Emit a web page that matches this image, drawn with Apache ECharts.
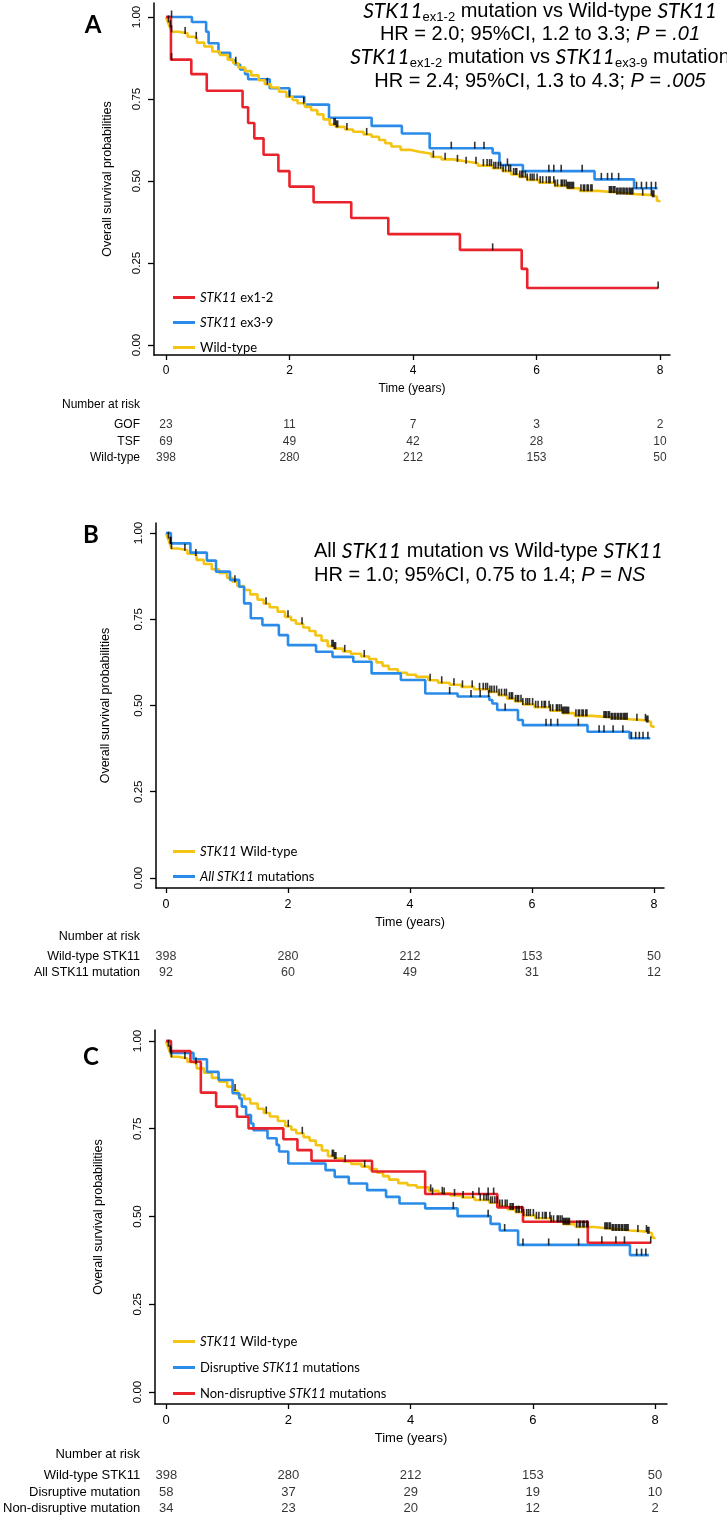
<!DOCTYPE html>
<html>
<head>
<meta charset="utf-8">
<script src="https://cdn.jsdelivr.net/npm/echarts@6/dist/echarts.min.js"></script>
<style>
  html, body { margin: 0; padding: 0; background: #fff; }
  #main { width: 727px; height: 1517px; }
</style>
</head>
<body>
<div id="main"></div>
<script>
// Kaplan-Meier steps: [time in years, survival after the drop]
const wildType = [[0,1],[0.03,0.985],[0.06,0.97],[0.09,0.955],[0.2,0.95],[0.35,0.94],[0.45,0.935],[0.5,0.922],
  [0.62,0.91],[0.75,0.895],[0.87,0.884],[1.0,0.87],[1.09,0.859],[1.17,0.846],[1.28,0.835],[1.38,0.822],[1.5,0.807],
  [1.6,0.795],[1.7,0.785],[1.83,0.772],[1.95,0.757],[2.05,0.747],[2.13,0.737],[2.25,0.726],[2.35,0.716],[2.45,0.703],
  [2.55,0.688],[2.65,0.672],[2.75,0.665],[2.9,0.657],[3.03,0.65],[3.2,0.642],[3.33,0.635],[3.45,0.625],[3.55,0.615],
  [3.65,0.605],[3.8,0.595],[3.95,0.589],[4.1,0.583],[4.3,0.573],[4.46,0.566],[4.65,0.56],[4.84,0.554],[5.05,0.547],
  [5.29,0.539],[5.45,0.53],[5.59,0.52],[5.72,0.512],[5.85,0.503],[6.04,0.495],[6.3,0.485],[6.5,0.478],[6.7,0.47],
  [7.0,0.465],[7.3,0.46],[7.6,0.457],[7.88,0.452],[7.95,0.44],[7.99,0.435]];
const wildTypeCensor = [0.04,0.07,0.09,0.31,0.49,1.13,1.64,2.0,2.23,2.72,2.74,2.76,2.78,2.93,3.25,4.33,4.52,4.72,
  4.86,5.02,5.14,5.2,5.24,5.27,5.31,5.34,5.38,5.42,5.46,5.5,5.55,5.58,5.63,5.66,5.68,5.73,5.76,5.78,5.82,5.85,5.9,
  5.93,5.96,6.01,6.06,6.1,6.16,6.2,6.22,6.28,6.3,6.34,6.4,6.42,6.45,6.48,6.5,6.52,6.54,6.56,6.58,6.6,6.72,6.76,6.78,
  6.82,6.84,6.88,6.9,7.18,7.2,7.22,7.25,7.27,7.3,7.32,7.35,7.37,7.4,7.42,7.45,7.47,7.5,7.52,7.54,7.56,7.72,7.86,
  7.88,7.9];

const ex12 = [[0,1],[0.08,0.87],[0.41,0.826],[0.66,0.775],[1.24,0.725],[1.33,0.677],[1.43,0.63],[1.58,0.58],
  [1.82,0.53],[2.0,0.483],[2.39,0.435],[3.0,0.387],[3.6,0.338],[4.76,0.29],[5.76,0.232],[5.85,0.174],[7.97,0.174]];
const ex12Censor = [0.09,5.29,7.97];

const ex39 = [[0,1],[0.42,0.985],[0.65,0.955],[0.69,0.92],[0.85,0.891],[1.04,0.869],[1.12,0.855],[1.2,0.84],
  [1.28,0.826],[1.33,0.81],[1.68,0.783],[2.0,0.757],[2.24,0.733],[2.64,0.693],[3.33,0.668],[3.82,0.645],[4.27,0.6],
  [5.29,0.585],[5.4,0.549],[5.78,0.53],[6.94,0.505],[7.58,0.478],[7.96,0.478]];
const ex39Censor = [0.09,4.62,5.0,5.15,5.53,6.2,6.28,6.4,6.74,7.05,7.15,7.22,7.33,7.62,7.7,7.78,7.86,7.93];

const allMut = [[0,1],[0.08,0.97],[0.4,0.943],[0.67,0.92],[0.82,0.888],[1.05,0.864],[1.2,0.844],[1.28,0.796],
  [1.39,0.753],[1.58,0.733],[1.85,0.704],[2.0,0.675],[2.46,0.656],[2.73,0.641],[3.07,0.627],[3.37,0.593],[3.85,0.574],
  [4.25,0.535],[4.78,0.526],[5.3,0.516],[5.35,0.506],[5.43,0.487],[5.77,0.458],[5.85,0.443],[6.91,0.424],[7.6,0.405],
  [7.94,0.405]];
const allMutCensor = [0.08,4.65,5.0,5.15,5.29,5.56,6.23,6.31,6.42,6.76,7.1,7.18,7.33,7.49,7.63,7.7,7.76,7.82,7.9];

const disrupt = [[0,1],[0.08,0.966],[0.45,0.948],[0.67,0.912],[0.86,0.889],[1.09,0.851],[1.2,0.836],[1.24,0.813],
  [1.31,0.789],[1.39,0.765],[1.43,0.746],[1.66,0.723],[1.81,0.704],[1.85,0.685],[2.0,0.651],[2.61,0.632],[2.76,0.613],
  [2.99,0.594],[3.29,0.575],[3.6,0.556],[3.82,0.537],[4.24,0.523],[4.77,0.501],[5.31,0.479],[5.46,0.46],[5.76,0.419],
  [7.59,0.39],[7.9,0.39]];
const disruptCensor = [0.08,4.7,5.27,5.54,5.84,6.26,6.75,7.7,7.78,7.85];

const nonDisrupt = [[0,1],[0.08,0.971],[0.4,0.941],[0.57,0.853],[0.82,0.813],[1.16,0.784],[1.35,0.751],[1.92,0.72],
  [2.15,0.689],[2.38,0.659],[3.37,0.628],[4.24,0.564],[5.42,0.526],[5.84,0.485],[6.9,0.425],[7.93,0.425]];
const nonDisruptCensor = [4.36,4.55,5.12,5.27,5.36,7.13,7.36,7.5,7.93];

// number at risk
const riskTimes = [0, 2, 4, 6, 8];
const riskRowsA = ['GOF', 'TSF', 'Wild-type'];
const riskA = [[23,11,7,3,2],[69,49,42,28,10],[398,280,212,153,50]];
const riskRowsB = ['Wild-type STK11', 'All STK11 mutation'];
const riskB = [[398,280,212,153,50],[92,60,49,31,12]];
const riskRowsC = ['Wild-type STK11', 'Disruptive mutation', 'Non-disruptive mutation'];
const riskC = [[398,280,212,153,50],[58,37,29,19,10],[34,23,20,12,2]];

const xTicks = [0, 2, 4, 6, 8];
const yTicks = [0, 0.25, 0.5, 0.75, 1];

const RED = '#e8232b', BLUE = '#2a8ce8', YELLOW = '#f4c414';
const FONT = '"Liberation Sans", Arial, sans-serif';
const LEG_FONT = 'Lato, "Liberation Sans", sans-serif';

// layout of the three panels
const panels = [
  { grid: {left: 154, top: 3, width: 516, height: 352}, x: [-0.1943, 8.162], y: [-0.0305, 1.0427], fs: 12, yGap: 40,
    risk: {left: 154, top: 416.5, width: 516, height: 50}, riskRows: riskRowsA, risk_: riskA, riskTitleY: 405 },
  { grid: {left: 156, top: 523, width: 508, height: 365}, x: [-0.164, 8.164], y: [-0.029, 1.029], fs: 12.5, yGap: 44,
    risk: {left: 156, top: 949, width: 508, height: 31}, riskRows: riskRowsB, risk_: riskB, riskTitleY: 937 },
  { grid: {left: 155, top: 1030, width: 512, height: 374}, x: [-0.18, 8.196], y: [-0.0342, 1.0313], fs: 13, yGap: 50,
    risk: {left: 155, top: 1467.5, width: 512, height: 51}, riskRows: riskRowsC, risk_: riskC, riskTitleY: 1454 }
];

function survAt(curve, t) {
  let s = curve[0][1];
  for (const p of curve) { if (p[0] <= t) s = p[1]; }
  return s;
}

const grids = [], xAxes = [], yAxes = [], series = [];

panels.forEach((p, i) => {
  grids.push(p.grid);
  xAxes.push({
    gridIndex: i, type: 'value', min: p.x[0], max: p.x[1],
    axisLine: { onZero: false, lineStyle: { color: '#000', width: 1.5 } },
    axisTick: { customValues: xTicks, length: 5, lineStyle: { color: '#000', width: 1.3 } },
    axisLabel: { customValues: xTicks, margin: 10, fontSize: p.fs, color: '#000', fontFamily: FONT },
    splitLine: { show: false },
    name: 'Time (years)', nameLocation: 'middle', nameGap: 28,
    nameTextStyle: { fontSize: p.fs, color: '#000', fontFamily: FONT }
  });
  yAxes.push({
    gridIndex: i, type: 'value', min: p.y[0], max: p.y[1],
    axisLine: { onZero: false, lineStyle: { color: '#000', width: 1.5 } },
    axisTick: { customValues: yTicks, length: 6, lineStyle: { color: '#000', width: 1.3 } },
    axisLabel: { customValues: yTicks, rotate: 90, margin: 11, fontSize: 11.5, color: '#000', fontFamily: FONT,
      formatter: v => v.toFixed(2) },
    splitLine: { show: false },
    name: 'Overall survival probabilities', nameLocation: 'middle', nameGap: p.yGap,
    nameTextStyle: { fontSize: 12.5, color: '#000', fontFamily: FONT }
  });
});

// risk table grids
panels.forEach((p, i) => {
  const gi = 3 + i;
  grids.push(p.risk);
  xAxes.push({ gridIndex: gi, type: 'value', min: p.x[0], max: p.x[1], show: false });
  yAxes.push({
    gridIndex: gi, type: 'category', data: p.riskRows, inverse: true,
    axisLine: { show: false }, axisTick: { show: false },
    axisLabel: { interval: 0, margin: p.risk.left - 140, fontSize: p.fs, color: '#000', fontFamily: FONT }
  });
  p.riskRows.forEach((row, r) => {
    series.push({
      type: 'scatter', name: 'risk' + i + '_' + r, xAxisIndex: gi, yAxisIndex: gi,
      symbolSize: 0, silent: true,
      label: { show: true, position: 'inside', fontSize: p.fs, color: '#000', fontFamily: FONT,
        formatter: d => d.value[2] },
      data: riskTimes.map((t, k) => [t, row, p.risk_[r][k]])
    });
  });
});

function curve(name, data, color, idx, z) {
  series.push({
    type: 'line', name: name, data: data, step: 'end', xAxisIndex: idx, yAxisIndex: idx,
    symbol: 'none', showSymbol: false, silent: true, z: z,
    lineStyle: { width: 2.6, color: color }, itemStyle: { color: color }
  });
}
function censor(name, times, data, idx) {
  series.push({
    type: 'scatter', name: name, xAxisIndex: idx, yAxisIndex: idx, silent: true, z: 10,
    symbol: 'rect', symbolSize: [1.6, 7], symbolOffset: [0, -3],
    itemStyle: { color: '#000' },
    data: times.map(t => [t, survAt(data, t)])
  });
}

// panel A
curve('STK11 ex3-9', ex39, BLUE, 0, 2);
curve('Wild-type', wildType, YELLOW, 0, 3);
curve('STK11 ex1-2', ex12, RED, 0, 4);
censor('cA1', ex39Censor, ex39, 0);
censor('cA2', wildTypeCensor, wildType, 0);
censor('cA3', ex12Censor, ex12, 0);
// panel B
curve('STK11 Wild-type', wildType, YELLOW, 1, 2);
curve('All STK11 mutations', allMut, BLUE, 1, 3);
censor('cB1', wildTypeCensor, wildType, 1);
censor('cB2', allMutCensor, allMut, 1);
// panel C
curve('STK11 Wild-type', wildType, YELLOW, 2, 2);
curve('Disruptive STK11 mutations', disrupt, BLUE, 2, 3);
curve('Non-disruptive STK11 mutations', nonDisrupt, RED, 2, 4);
censor('cC1', wildTypeCensor, wildType, 2);
censor('cC2', disruptCensor, disrupt, 2);
censor('cC3', nonDisruptCensor, nonDisrupt, 2);

const legendLabels = {
  'STK11 ex1-2': '{i|STK11} ex1-2',
  'STK11 ex3-9': '{i|STK11} ex3-9',
  'Wild-type': 'Wild-type',
  'STK11 Wild-type': '{i|STK11} Wild-type',
  'All STK11 mutations': '{i|All STK11} mutations',
  'Disruptive STK11 mutations': 'Disruptive {i|STK11} mutations',
  'Non-disruptive STK11 mutations': 'Non-disruptive {i|STK11} mutations'
};
function legend(names, top, gap) {
  return {
    data: names, orient: 'vertical', left: 168, top: top, icon: 'rect',
    itemWidth: 22, itemHeight: 3, itemGap: gap, selectedMode: false,
    formatter: n => legendLabels[n],
    textStyle: { fontFamily: LEG_FONT, fontSize: 13, lineHeight: 17, color: '#000',
      rich: { i: { fontFamily: LEG_FONT, fontStyle: 'italic', fontSize: 13 } } }
  };
}

const titleRich = {
  i: { fontFamily: LEG_FONT, fontStyle: 'italic', fontSize: 21 },
  s: { fontFamily: FONT, fontSize: 13, padding: [13, 0, 0, 0] },
  p: { fontFamily: FONT, fontStyle: 'italic', fontSize: 20 }
};
function tline(text, x, y, align) {
  return { type: 'text', x: x, y: y,
    style: { text: text, rich: titleRich, fontFamily: FONT, fontSize: 20, fill: '#000',
      align: align, verticalAlign: 'middle' } };
}
function plain(text, x, y, size, opts) {
  return { type: 'text', x: x, y: y,
    style: Object.assign({ text: text, fontFamily: FONT, fontSize: size, fill: '#000',
      align: 'right', verticalAlign: 'middle' }, opts || {}) };
}

const graphics = [
  plain('A', 93, 25, 24, { align: 'center', fontFamily: LEG_FONT, fontWeight: 'bold' }),
  plain('B', 91, 535, 24, { align: 'center', fontFamily: LEG_FONT, fontWeight: 'bold' }),
  plain('C', 91, 1057, 24, { align: 'center', fontFamily: LEG_FONT, fontWeight: 'bold' }),
  tline('{i|STK11}{s|ex1-2} mutation vs Wild-type {i|STK11}', 540, 11, 'center'),
  tline('HR = 2.0; 95%CI, 1.2 to 3.3; {p|P} = {p|.01}', 540, 34, 'center'),
  tline('{i|STK11}{s|ex1-2} mutation vs {i|STK11}{s|ex3-9} mutation', 540, 57, 'center'),
  tline('HR = 2.4; 95%CI, 1.3 to 4.3; {p|P} = {p|.005}', 540, 81, 'center'),
  tline('All {i|STK11} mutation vs Wild-type {i|STK11}', 314, 551, 'left'),
  tline('HR = 1.0; 95%CI, 0.75 to 1.4; {p|P} = {p|NS}', 314, 575, 'left')
];
panels.forEach(p => graphics.push(plain('Number at risk', 140, p.riskTitleY, p.fs)));

const chart = echarts.init(document.getElementById('main'), null, { width: 727, height: 1517 });
chart.setOption({
  animation: false,
  backgroundColor: '#fff',
  grid: grids,
  xAxis: xAxes,
  yAxis: yAxes,
  legend: [
    legend(['STK11 ex1-2', 'STK11 ex3-9', 'Wild-type'], 284, 8),
    legend(['STK11 Wild-type', 'All STK11 mutations'], 838, 8),
    legend(['STK11 Wild-type', 'Disruptive STK11 mutations', 'Non-disruptive STK11 mutations'], 1328, 9)
  ],
  graphic: graphics,
  series: series
});
</script>
</body>
</html>
